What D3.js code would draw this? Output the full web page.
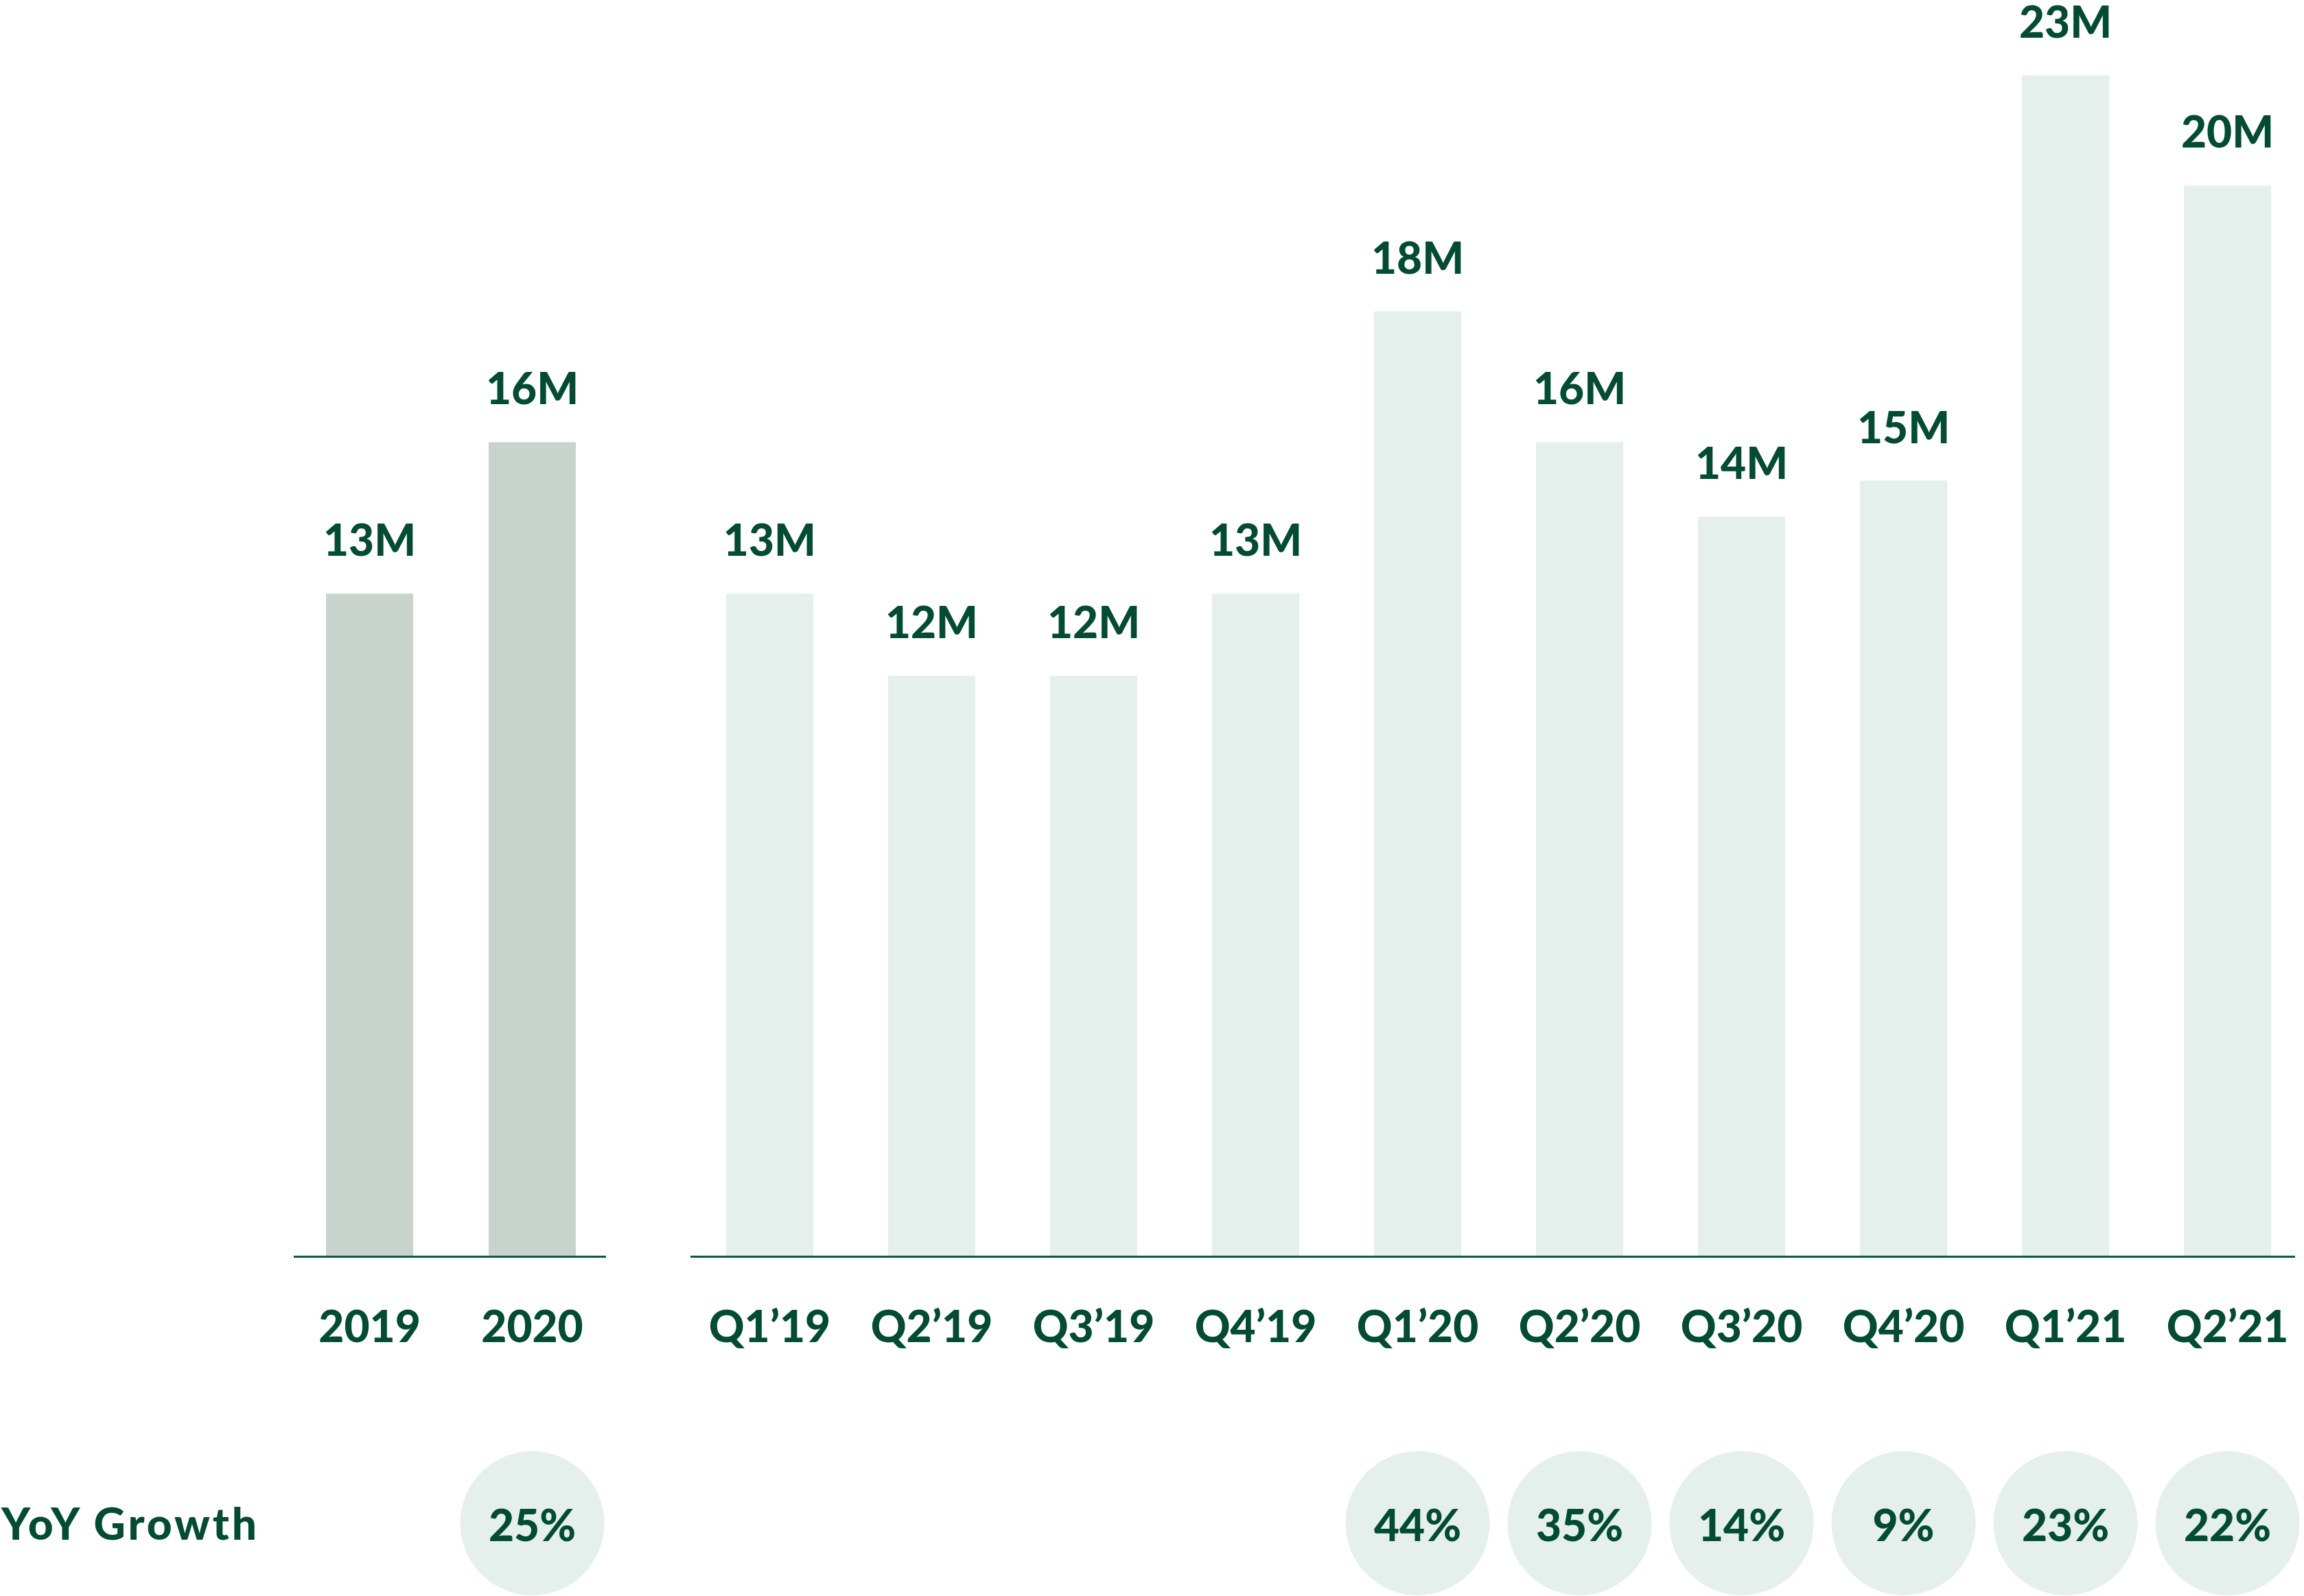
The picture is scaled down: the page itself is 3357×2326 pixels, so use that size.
<!DOCTYPE html>
<html>
<head>
<meta charset="utf-8">
<script src="https://cdn.jsdelivr.net/npm/d3@7"></script>
<style>
  html, body { margin: 0; padding: 0; background: #ffffff; }
  svg { display: block; }
  text { font-family: Lato, "Noto Sans", sans-serif; font-weight: 900; fill: #034b31; }
</style>
</head>
<body>
<script>
// ---- data ----
const annualCategories = ["2019", "2020"];
const annualValues = [12.9, 15.85];
const annualLabels = ["13M", "16M"];
const annualGrowth = [null, 25];

const quarterCategories = ["Q1\u201919", "Q2\u201919", "Q3\u201919", "Q4\u201919", "Q1\u201920", "Q2\u201920", "Q3\u201920", "Q4\u201920", "Q1\u201921", "Q2\u201921"];
const quarterValues = [12.9, 11.3, 11.3, 12.9, 18.4, 15.85, 14.4, 15.1, 23.0, 20.85];
const quarterLabels = ["13M", "12M", "12M", "13M", "18M", "16M", "14M", "15M", "23M", "20M"];
const quarterGrowth = [null, null, null, null, 44, 35, 14, 9, 23, 22];

const growthTitle = "YoY Growth";

// ---- layout ----
const W = 3357, H = 2326;
const baseY = 1830;
const fontSize = 64;
const fontWeight = 900;
const textColor = "#034b31";
const lineColor = "#0b5a3c";
const annualColor = "#c9d3ce";
const quarterColor = "#e5efeb";
const circleColor = "#e5efeb";
const growthCY = 2220;
const circleR = 105;

const svg = d3.select("body").append("svg").attr("width", W).attr("height", H);

const y = d3.scaleLinear().domain([0, baseY / 74.8]).range([baseY, 0]);

const xa = d3.scaleBand().domain(annualCategories).range([429.5, 884.5]).paddingInner(0.464).paddingOuter(0.192);
const xq = d3.scaleBand().domain(quarterCategories).range([1014, 3353]).paddingInner(0.4616).paddingOuter(0.186);

function drawGroup(xs, cats, vals, labels, growth, color, lineX0, lineX1) {
  const g = svg.append("g");
  const data = cats.map((c, i) => ({ c, v: vals[i], l: labels[i], gr: growth[i] }));

  g.selectAll("rect.bar").data(data).join("rect")
    .attr("class", "bar")
    .attr("x", d => xs(d.c))
    .attr("width", xs.bandwidth())
    .attr("y", d => y(d.v))
    .attr("height", d => baseY - y(d.v))
    .attr("fill", color);

  g.selectAll("text.val").data(data).join("text")
    .attr("class", "val")
    .attr("x", d => xs(d.c) + xs.bandwidth() / 2)
    .attr("y", d => y(d.v) - 55)
    .attr("text-anchor", "middle")
    .attr("font-size", fontSize)
    .text(d => d.l);

  const axis = d3.axisBottom(xs).tickSize(0).tickPadding(0);
  const ag = g.append("g").attr("transform", `translate(0,${baseY + 1.5})`).call(axis);
  ag.select(".domain").remove();
  ag.selectAll(".tick text")
    .attr("y", 1956 - baseY - 1.5)
    .attr("dy", 0)
    .attr("font-size", fontSize)
    .attr("font-family", "Lato, 'Noto Sans', sans-serif")
    .attr("font-weight", fontWeight)
    .attr("fill", textColor);

  g.append("line")
    .attr("x1", lineX0).attr("x2", lineX1)
    .attr("y1", baseY + 1.5).attr("y2", baseY + 1.5)
    .attr("stroke", lineColor).attr("stroke-width", 3);

  const gd = data.filter(d => d.gr !== null);
  g.selectAll("circle.gr").data(gd).join("circle")
    .attr("class", "gr")
    .attr("cx", d => xs(d.c) + xs.bandwidth() / 2)
    .attr("cy", growthCY)
    .attr("r", circleR)
    .attr("fill", circleColor);
  g.selectAll("text.gr").data(gd).join("text")
    .attr("class", "gr")
    .attr("x", d => xs(d.c) + xs.bandwidth() / 2)
    .attr("y", growthCY + 26)
    .attr("text-anchor", "middle")
    .attr("font-size", fontSize)
    .text(d => d.gr + "%");
}

drawGroup(xa, annualCategories, annualValues, annualLabels, annualGrowth, annualColor, 428, 883);
drawGroup(xq, quarterCategories, quarterValues, quarterLabels, quarterGrowth, quarterColor, 1006, 3344);

svg.append("text")
  .attr("x", 2)
  .attr("y", 2244)
  .attr("font-size", fontSize)
  .attr("textLength", 372)
  .attr("lengthAdjust", "spacing")
  .text(growthTitle);
</script>
</body>
</html>
